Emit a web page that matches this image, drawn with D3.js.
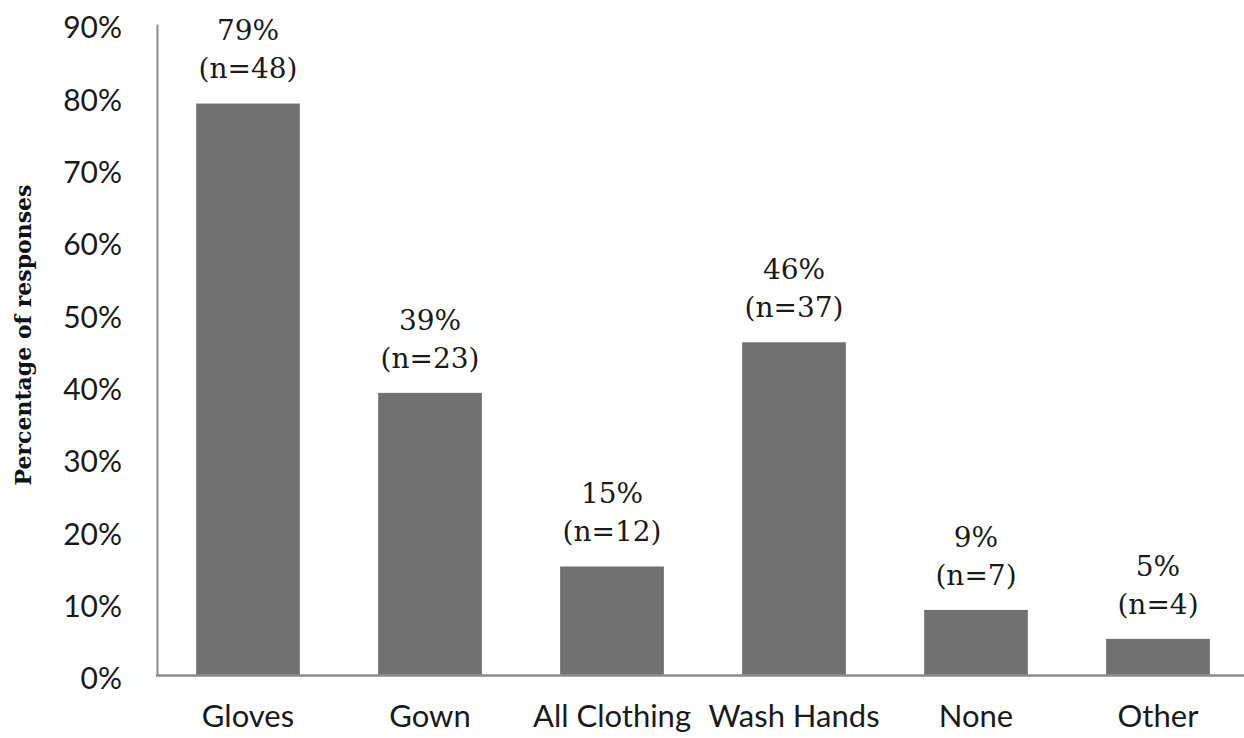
<!DOCTYPE html>
<html>
<head>
<meta charset="utf-8">
<script src="https://cdn.jsdelivr.net/npm/d3@7"></script>
<style>
  html, body { margin: 0; padding: 0; background: #fff; }
  svg { display: block; }
</style>
</head>
<body>
<svg id="chart" width="1244" height="738"></svg>
<script>
// Protective measure reported by respondents
const categories = ["Gloves", "Gown", "All Clothing", "Wash Hands", "None", "Other"];
const percentages = [0.79, 0.39, 0.15, 0.46, 0.09, 0.05];
const counts = [48, 23, 12, 37, 7, 4];
const yTicks = [0, 0.1, 0.2, 0.3, 0.4, 0.5, 0.6, 0.7, 0.8, 0.9];

const svg = d3.select("#chart");
const axisLeftX = 157;
const baseY = 675;

const x = d3.scaleBand()
  .domain(categories)
  .range([axisLeftX, axisLeftX + 6 * 182])
  .paddingInner(0.43)
  .paddingOuter(0.215);

const y = d3.scaleLinear()
  .domain([0, 0.9])
  .range([baseY, 24]);

const data = categories.map((c, i) => ({ cat: c, pct: percentages[i], n: counts[i] }));

// bars
svg.append("g")
  .selectAll("rect")
  .data(data)
  .join("rect")
  .attr("x", d => x(d.cat))
  .attr("y", d => y(d.pct))
  .attr("width", x.bandwidth())
  .attr("height", d => y(0) - y(d.pct))
  .attr("fill", "#717171");

// y axis
const yAxis = svg.append("g")
  .attr("transform", `translate(${axisLeftX},0)`)
  .call(d3.axisLeft(y)
    .tickValues(yTicks)
    .tickFormat(d3.format(".0%"))
    .tickSize(0)
    .tickPadding(35));
yAxis.select(".domain").attr("stroke", "#8c8c8c").attr("stroke-width", 2);
yAxis.selectAll(".tick text")
  .attr("font-family", "Lato, 'Open Sans', sans-serif")
  .attr("font-size", 30)
  .attr("fill", "#1a1a1a")
  .attr("dy", "0.36em")
  .attr("transform", "translate(0,3)");

// x axis
const xAxis = svg.append("g")
  .attr("transform", `translate(0,${baseY})`)
  .call(d3.axisBottom(x).tickSize(0).tickSizeOuter(0).tickPadding(30));
xAxis.select(".domain").remove();
xAxis.selectAll(".tick text")
  .attr("font-family", "Lato, 'Open Sans', sans-serif")
  .attr("font-size", 31)
  .attr("fill", "#1a1a1a");
svg.append("line")
  .attr("x1", axisLeftX - 1).attr("x2", 1244)
  .attr("y1", baseY + 0.5).attr("y2", baseY + 0.5)
  .attr("stroke", "#8c8c8c")
  .attr("stroke-width", 2.5);

// value labels above bars
const labels = svg.append("g")
  .attr("font-family", "'DejaVu Serif', serif")
  .attr("font-size", 28)
  .attr("fill", "#1a1a1a")
  .attr("text-anchor", "middle");
labels.selectAll("text.pct")
  .data(data)
  .join("text")
  .attr("class", "pct")
  .attr("x", d => x(d.cat) + x.bandwidth() / 2)
  .attr("y", d => y(d.pct) - 73)
  .attr("dy", "0.35em")
  .text(d => d3.format(".0%")(d.pct));
labels.selectAll("text.cnt")
  .data(data)
  .join("text")
  .attr("class", "cnt")
  .attr("x", d => x(d.cat) + x.bandwidth() / 2)
  .attr("y", d => y(d.pct) - 35)
  .attr("dy", "0.35em")
  .text(d => `(n=${d.n})`);

// y axis title
svg.append("text")
  .attr("transform", "translate(31,335) rotate(-90)")
  .attr("text-anchor", "middle")
  .attr("font-family", "'DejaVu Serif', serif")
  .attr("font-weight", "bold")
  .attr("font-size", 22)
  .attr("fill", "#111")
  .text("Percentage of responses");
</script>
</body>
</html>
